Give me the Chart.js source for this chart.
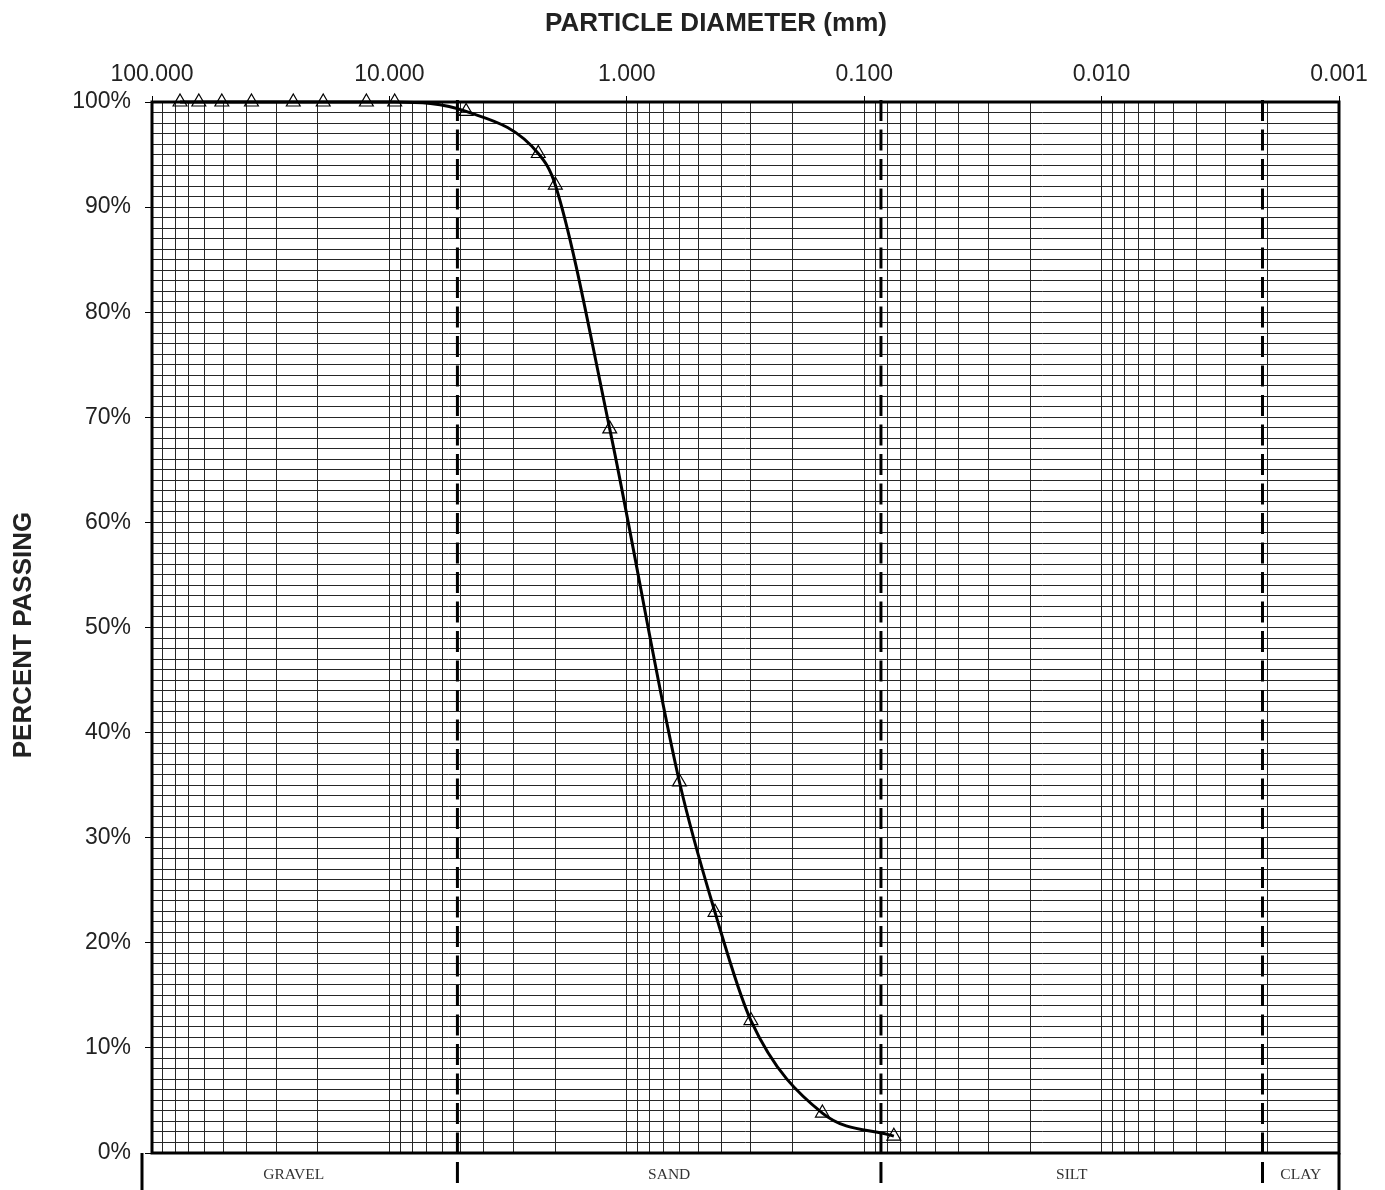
<!DOCTYPE html>
<html>
<head>
<meta charset="utf-8">
<title>Grain size distribution</title>
<script src="https://cdn.jsdelivr.net/npm/chart.js@4.4.1/dist/chart.umd.min.js"></script>
<style>
  html, body { margin: 0; padding: 0; background: #fff; }
  #wrap { width: 1385px; height: 1190px; position: relative; }
</style>
</head>
<body>
<div id="wrap"><canvas id="curva"></canvas></div>
<script>
/* sieve openings (mm) and percent passing */
const diametros = [76.2, 63.5, 50.8, 38.1, 25.4, 19.0, 12.5, 9.5, 4.75, 2.36, 2.0, 1.18, 0.6, 0.425, 0.3, 0.15, 0.075];
const pasante   = [100, 100, 100, 100, 100, 100, 100, 100, 99.1, 95.1, 92.1, 68.9, 35.3, 22.9, 12.6, 3.8, 1.6];

/* labelled ticks */
const ticksX = [100, 10, 1, 0.1, 0.01, 0.001];
const ticksY = [0, 10, 20, 30, 40, 50, 60, 70, 80, 90, 100];

/* soil class boundaries (mm) and names */
const limites = [5.17, 0.085, 0.0021];
const zonas   = ['GRAVEL', 'SAND', 'SILT', 'CLAY'];

// grid lines: 1..9 per decade on x, every 1% on y
const gridX = [];
for (let e = -3; e < 2; e++) {
  for (let m = 1; m < 10; m++) gridX.push(+(m * Math.pow(10, e)).toPrecision(3));
}
gridX.push(100);
const gridY = [];
for (let i = 0; i <= 100; i++) gridY.push(i);

const esMayorX = v => ticksX.some(t => Math.abs(Math.log10(v) - Math.log10(t)) < 1e-6);
const esMayorY = v => ticksY.includes(v);

const FUENTE = '"Liberation Sans", Arial, sans-serif';

/* ── extra drawing: frame, class boundaries, labels, titles ── */
const extras = {
  id: 'extras',
  beforeDatasetsDraw(chart) {
    const { ctx, chartArea: a, scales: { x } } = chart;
    const H = chart.height;
    ctx.save();
    ctx.strokeStyle = '#000';
    ctx.lineWidth = 3;
    ctx.strokeRect(a.left, a.top, a.right - a.left, a.bottom - a.top);

    // bottom strip
    const izq = a.left - 10;
    ctx.beginPath();
    ctx.moveTo(izq, a.bottom); ctx.lineTo(izq, H);
    ctx.moveTo(a.right, a.bottom); ctx.lineTo(a.right, H);
    ctx.stroke();

    // dashed boundaries
    ctx.setLineDash([21, 8.5]);
    limites.forEach(d => {
      const px = x.getPixelForValue(d);
      ctx.beginPath();
      ctx.moveTo(px, a.top - 2);
      ctx.lineTo(px, H);
      ctx.stroke();
    });
    ctx.setLineDash([]);

    const bordes = [izq, ...limites.map(d => x.getPixelForValue(d)), a.right];
    ctx.font = '15.5px "Liberation Serif", "Times New Roman", serif';
    ctx.fillStyle = '#333';
    ctx.textAlign = 'center';
    ctx.textBaseline = 'middle';
    zonas.forEach((z, i) => ctx.fillText(z, (bordes[i] + bordes[i + 1]) / 2 - (i === 0 ? 6 : 0), a.bottom + 22));

    // titles
    ctx.fillStyle = '#222';
    ctx.font = 'bold 26px ' + FUENTE;
    ctx.fillText('PARTICLE DIAMETER (mm)', 716, 24);
    ctx.translate(24, 635);
    ctx.rotate(-Math.PI / 2);
    ctx.fillText('PERCENT PASSING', 0, 0);
    ctx.restore();
  }
};

new Chart(document.getElementById('curva'), {
  type: 'scatter',
  data: {
    datasets: [{
      data: diametros.map((d, i) => ({ x: d, y: pasante[i] })),
      showLine: true,
      borderColor: '#000',
      borderWidth: 3,
      cubicInterpolationMode: 'monotone',
      pointStyle: 'triangle',
      pointRadius: 8,
      pointHoverRadius: 8,
      pointBorderWidth: 1.2,
      pointBorderColor: '#000',
      pointBackgroundColor: 'rgba(0,0,0,0)',
      clip: false
    }]
  },
  options: {
    responsive: true,
    maintainAspectRatio: false,
    animation: false,
    layout: { padding: { left: 0, top: 0, right: 46, bottom: 37 } },
    plugins: { legend: { display: false }, tooltip: { enabled: false } },
    scales: {
      x: {
        type: 'logarithmic',
        position: 'top',
        reverse: true,
        min: 0.001,
        max: 100,
        afterBuildTicks: s => { s.ticks = gridX.map(v => ({ value: v })); },
        afterFit: s => { s.height = 102; },
        border: { display: false },
        grid: {
          color: '#262626',
          lineWidth: 1,
          tickLength: 6,
          tickColor: c => (c.tick && esMayorX(c.tick.value)) ? '#000' : 'rgba(0,0,0,0)'
        },
        ticks: {
          autoSkip: false,
          maxRotation: 0,
          padding: 8,
          color: '#222',
          font: { family: FUENTE, size: 23 },
          callback: v => esMayorX(v) ? v.toFixed(3) : ''
        }
      },
      y: {
        min: 0,
        max: 100,
        afterBuildTicks: s => { s.ticks = gridY.map(v => ({ value: v })); },
        afterFit: s => { s.width = 152; },
        border: { display: false },
        grid: {
          color: '#262626',
          lineWidth: 1,
          tickLength: 7,
          tickColor: c => (c.tick && esMayorY(c.tick.value)) ? '#000' : 'rgba(0,0,0,0)'
        },
        ticks: {
          autoSkip: false,
          padding: 14,
          color: '#222',
          font: { family: FUENTE, size: 23 },
          callback: v => esMayorY(v) ? v + '%' : ''
        }
      }
    }
  },
  plugins: [extras]
});
</script>
</body>
</html>
